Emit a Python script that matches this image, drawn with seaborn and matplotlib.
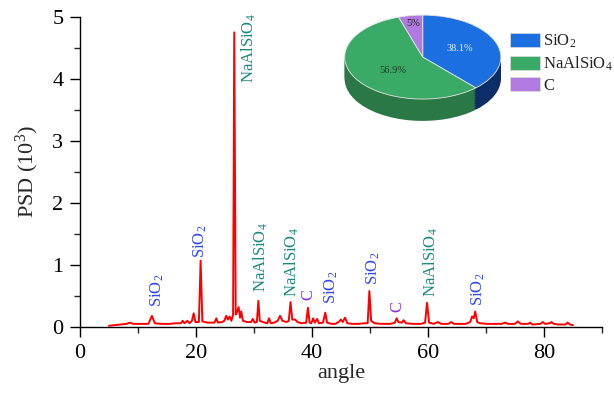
"""
PSD pattern with phase labels plus an inset 3-D style pie of phase fractions.
"""

import numpy as np
import matplotlib
matplotlib.use("Agg")
import matplotlib.pyplot as plt
from matplotlib.patches import Patch
import seaborn as sns

# ── data ──────────────────────────────────────────────────────────

angle = [
    5.0, 6.0, 7.0, 8.0, 8.6, 9.2, 10.5, 11.8, 12.4, 12.9, 14.0, 15.5, 16.5,
    17.4, 17.7, 18.0, 18.5, 18.9, 19.3, 19.6, 19.9, 20.5, 20.8, 21.1, 22.0,
    23.2, 23.5, 23.8, 24.5, 24.9, 25.2, 25.5, 25.8, 26.1, 26.4, 26.6, 26.85,
    27.1, 27.35, 27.6, 27.8, 28.1, 28.8, 29.5, 29.8, 30.1, 30.5, 30.75, 31.0,
    31.5, 32.3, 32.6, 32.9, 33.5, 34.1, 34.5, 34.9, 35.6, 36.0, 36.3, 36.6,
    37.1, 37.5, 38.2, 39.0, 39.3, 39.6, 39.9, 40.2, 40.5, 40.9, 41.2, 41.9,
    42.3, 42.6, 43.4, 44.0, 44.6, 45.0, 45.3, 45.7, 46.1, 47.0, 48.0, 49.0,
    49.6, 49.9, 50.2, 50.8, 52.0, 53.5, 54.3, 54.6, 54.9, 55.5, 55.8, 56.2,
    57.5, 58.8, 59.5, 59.85, 60.2, 61.0, 61.7, 62.3, 63.5, 64.0, 64.5, 65.5,
    66.5, 67.3, 67.6, 67.9, 68.15, 68.5, 69.0, 70.2, 71.5, 72.7, 73.3, 73.8,
    75.0, 75.5, 76.0, 77.3, 77.6, 78.0, 79.4, 79.8, 80.2, 81.0, 81.3, 81.7,
    82.5, 83.7, 84.1, 84.5, 85.0,
]
psd = [
    0.02, 0.03, 0.04, 0.05, 0.07, 0.05, 0.05, 0.05, 0.18, 0.06, 0.05, 0.05, 0.06,
    0.06, 0.10, 0.06, 0.10, 0.06, 0.10, 0.22, 0.08, 0.08, 1.07, 0.09, 0.07,
    0.07, 0.14, 0.07, 0.08, 0.10, 0.18, 0.12, 0.17, 0.10, 0.20, 4.75, 0.20,
    0.25, 0.32, 0.15, 0.25, 0.10, 0.08, 0.08, 0.13, 0.07, 0.08, 0.42, 0.10,
    0.08, 0.06, 0.14, 0.06, 0.07, 0.10, 0.18, 0.10, 0.08, 0.10, 0.40, 0.12,
    0.12, 0.08, 0.06, 0.07, 0.31, 0.07, 0.06, 0.14, 0.07, 0.13, 0.06, 0.07,
    0.23, 0.07, 0.05, 0.05, 0.08, 0.12, 0.08, 0.15, 0.06, 0.05, 0.05, 0.06,
    0.06, 0.58, 0.10, 0.06, 0.05, 0.05, 0.07, 0.14, 0.08, 0.07, 0.11, 0.06,
    0.05, 0.05, 0.07, 0.39, 0.07, 0.05, 0.08, 0.05, 0.05, 0.08, 0.05, 0.05,
    0.05, 0.08, 0.17, 0.14, 0.25, 0.08, 0.06, 0.05, 0.05, 0.05, 0.07, 0.05,
    0.05, 0.09, 0.05, 0.05, 0.07, 0.04, 0.05, 0.08, 0.05, 0.06, 0.08, 0.05,
    0.04, 0.04, 0.07, 0.04, 0.03,
]

# peak labels (text, x, bottom y)
label_text = ["SiO$_2$", "SiO$_2$", "NaAlSiO$_4$", "NaAlSiO$_4$", "NaAlSiO$_4$",
              "C", "SiO$_2$", "SiO$_2$", "C", "NaAlSiO$_4$", "SiO$_2$"]
label_x = [13.3, 20.7, 29.1, 31.2, 36.6, 39.3, 43.3, 50.5, 54.7, 60.5, 68.6]
label_y = [0.32, 1.11, 3.94, 0.56, 0.49, 0.44, 0.37, 0.68, 0.24, 0.49, 0.34]

# phase fractions
phases = ["SiO$_2$", "NaAlSiO$_4$", "C"]
fractions = [38.1, 56.9, 5.0]
pct_labels = ["38.1%", "56.9%", "5%"]

# ── styles ────────────────────────────────────────────────────────

PHASE_COLOR = {"SiO$_2$": "#3045f0", "NaAlSiO$_4$": "#168a7e", "C": "#8f2fe8"}
PIE_TOP = ["#1b6fe0", "#3aab66", "#b07ae0"]
PIE_SIDE = ["#0c2d66", "#2a7845", "#7a4fa8"]
PCT_COLOR = ["#eef3ff", "#173a22", "#222222"]
PCT_POS = [(0.48, 0.21), (-0.38, -0.33), (-0.12, 0.81)]   # label spots on the top face

sns.set_style("ticks")
plt.rcParams["font.family"] = ["Liberation Serif", "DejaVu Serif"]
plt.rcParams["mathtext.fontset"] = "custom"
plt.rcParams["mathtext.rm"] = "Liberation Serif"
plt.rcParams["mathtext.it"] = "Liberation Serif:italic"
plt.rcParams["mathtext.bf"] = "Liberation Serif:bold"
plt.rcParams["mathtext.default"] = "rm"

fig = plt.figure(figsize=(6.14, 3.93), dpi=100)
ax = fig.add_axes([0.1303, 0.168, 0.850, 0.789])

# ── main pattern ──────────────────────────────────────────────────

sns.lineplot(x=angle, y=psd, color="#ff0000", linewidth=1.4,
             estimator=None, ax=ax)

for txt, x, y in zip(label_text, label_x, label_y):
    ax.text(x, y, txt, rotation=90, ha="center", va="bottom",
            fontsize=12, color=PHASE_COLOR[txt])

ax.set_xlim(0, 90)
ax.set_ylim(0, 5)
ax.set_xticks([0, 20, 40, 60, 80])
ax.set_xticks([10, 30, 50, 70, 90], minor=True)
ax.set_yticks([0, 1, 2, 3, 4, 5])
ax.set_yticks(np.arange(0.5, 5, 1.0), minor=True)
ax.tick_params(axis="both", which="major", direction="out", length=7,
               width=1, labelsize=16, pad=5, colors="black")
ax.tick_params(axis="both", which="minor", direction="out", length=4, width=1)
ax.set_xlabel("angle", fontsize=16, labelpad=1)
ax.set_ylabel("PSD (10$^3$)", fontsize=16, labelpad=8)
for side in ("left", "bottom"):
    ax.spines[side].set_color("black")
    ax.spines[side].set_linewidth(1.0)
sns.despine(ax=ax)

# ── inset 3-D style pie ───────────────────────────────────────────

pax = fig.add_axes([0.555, 0.687, 0.267, 0.280])
depth = 0.52
for off in np.linspace(-depth, 0, 14)[:-1]:
    pax.pie(fractions, colors=PIE_SIDE, startangle=90, counterclock=False,
            center=(0, off), wedgeprops={"linewidth": 0})

wedges, _, autotexts = pax.pie(
    fractions, colors=PIE_TOP, startangle=90, counterclock=False,
    autopct="%1.1f%%", pctdistance=0.6,
    wedgeprops={"edgecolor": "#e6e6e6", "linewidth": 0.6},
    textprops={"fontsize": 7.5},
)
for t, lab, col, pos in zip(autotexts, pct_labels, PCT_COLOR, PCT_POS):
    t.set_text(lab)
    t.set_color(col)
    t.set_position(pos)

pax.set_aspect("auto")
pax.set_xlim(-1.05, 1.05)
pax.set_ylim(-1.0 - depth - 0.05, 1.05)
pax.axis("off")

handles = [Patch(facecolor=c, edgecolor="#dddddd", linewidth=0.5) for c in PIE_TOP]
fig.legend(handles, phases, loc="upper left",
           bbox_to_anchor=(510 / 614, 1 - 33 / 393), frameon=False,
           fontsize=12, handlelength=1.8, handleheight=0.9,
           handletextpad=0.2, labelspacing=0.25, borderpad=0,
           borderaxespad=0)

fig.savefig("out.png", dpi=100, facecolor="white")
